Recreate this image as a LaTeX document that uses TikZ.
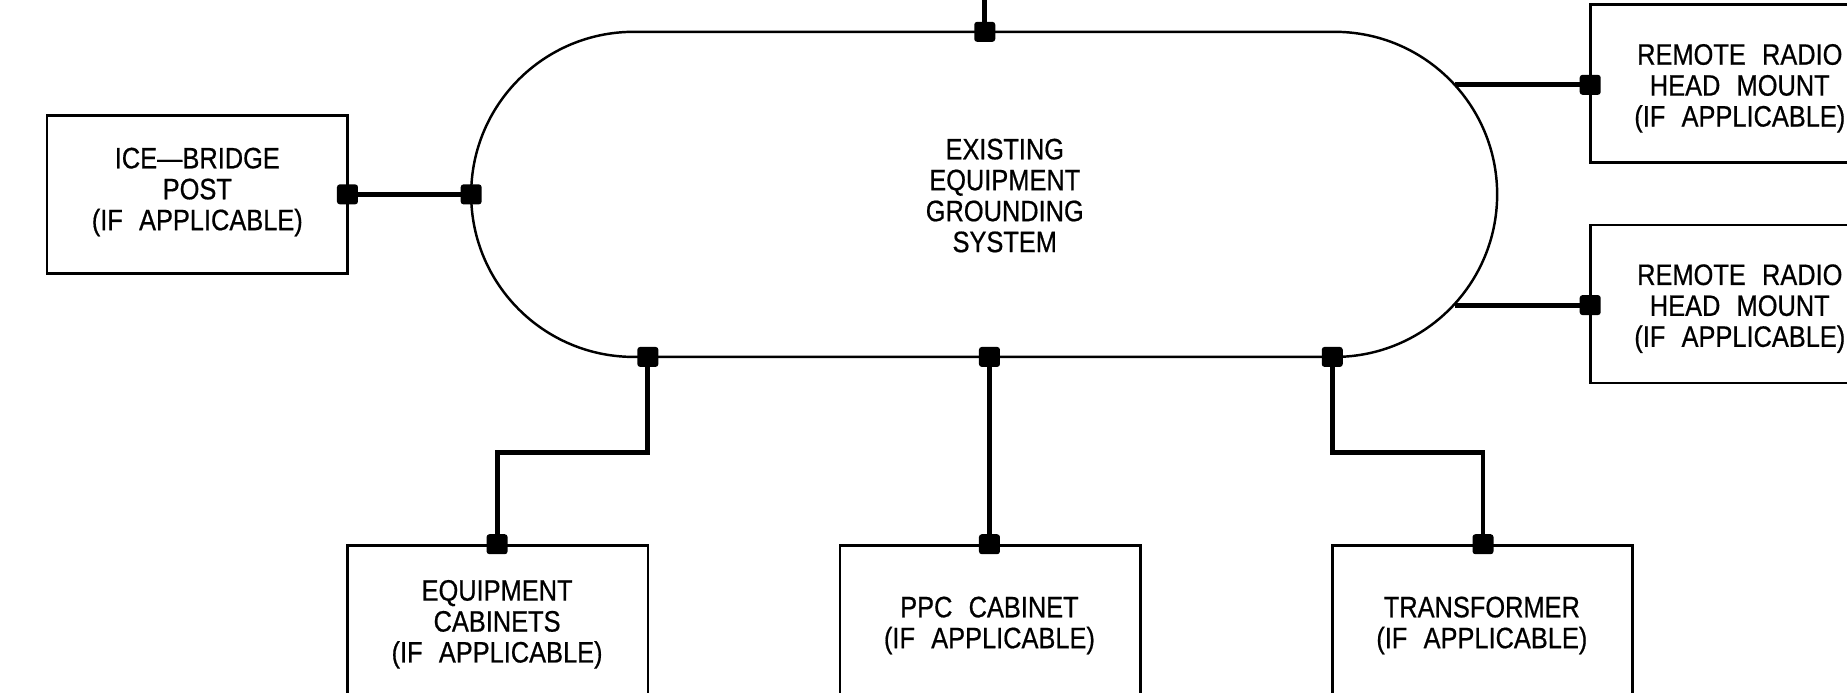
\documentclass[tikz,border=0pt]{standalone}
\usepackage{fontspec}
\setmainfont{Liberation Sans}[FakeStretch=0.86,FakeBold=0.6]
\usetikzlibrary{shapes.misc}
\newcommand\lbl{\fontsize{8.4}{8.8}\selectfont}
\newcommand\ws{\hspace{0.55em}}
\begin{document}
\begin{tikzpicture}[x=0.01178cm,y=-0.01178cm,
  box/.style={draw,line width=0.75pt,minimum width=3.004cm,minimum height=1.579cm,inner sep=0pt,align=center,font=\lbl},
  jn/.style={fill,rectangle,rounded corners=0.8pt,minimum width=0.21cm,minimum height=0.2cm,inner sep=0pt},
  wire/.style={line width=1.4pt},
  lab/.style={align=center,font=\lbl,inner sep=0pt}]
\useasboundingbox (0,0) rectangle (1568,588);
\clip (0,0) rectangle (1568,588);
% grounding system
\node[draw,rounded rectangle,line width=0.7pt,minimum width=10.26cm,minimum height=3.251cm,inner sep=0pt] (egs) at (835.5,165) {};
\node[lab] (egstxt) at (853,166) {EXISTING\\EQUIPMENT\\GROUNDING\\SYSTEM};
% boxes
\node[box] (ice) at (167.5,165) {};
\node[lab] (icetxt) at (167.5,163) {ICE---BRIDGE\\POST\\(IF\ws APPLICABLE)};
\node[box] (rrh1) at (1477.5,71) {};
\node[lab] (rrh1txt) at (1477,75) {REMOTE\ws RADIO\\HEAD\ws MOUNT\\(IF\ws APPLICABLE)};
\node[box] (rrh2) at (1477.5,258) {};
\node[lab] (rrh2txt) at (1477,262) {REMOTE\ws RADIO\\HEAD\ws MOUNT\\(IF\ws APPLICABLE)};
\node[box] (eqc) at (422.5,530) {};
\node[lab] (eqctxt) at (422,530) {EQUIPMENT\\CABINETS\\(IF\ws APPLICABLE)};
\node[box] (ppc) at (840.5,530) {};
\node[lab] (ppctxt) at (840,531) {PPC\ws CABINET\\(IF\ws APPLICABLE)};
\node[box] (tr) at (1258.5,530) {};
\node[lab] (trtxt) at (1258,531) {TRANSFORMER\\(IF\ws APPLICABLE)};
% coordinates
\coordinate (topend) at (836,0);
\coordinate (a1) at (1235,72);
\coordinate (a2) at (1235,259);
% junctions
\node[jn] (jtop) at (836,27) {};
\node[jn] (jice) at (295,165) {};
\node[jn] (jegsl) at (400,165) {};
\node[jn] (jr1) at (1350,72) {};
\node[jn] (jr2) at (1350,259) {};
\node[jn] (jb1) at (550,303) {};
\node[jn] (jb2) at (840,303) {};
\node[jn] (jb3) at (1131,303) {};
\node[jn] (je) at (422,462) {};
\node[jn] (jp) at (840,462) {};
\node[jn] (jt) at (1259,462) {};
% wires
\draw[wire] (topend) -- (jtop.center);
\draw[wire] (jice.center) -- (jegsl.center);
\draw[wire] (a1) -- (jr1.center);
\draw[wire] (a2) -- (jr2.center);
\draw[wire] (jb1.center) |- (422,384) -- (je.center);
\draw[wire] (jb2.center) -- (jp.center);
\draw[wire] (jb3.center) |- (1259,384) -- (jt.center);
\end{tikzpicture}
\end{document}
